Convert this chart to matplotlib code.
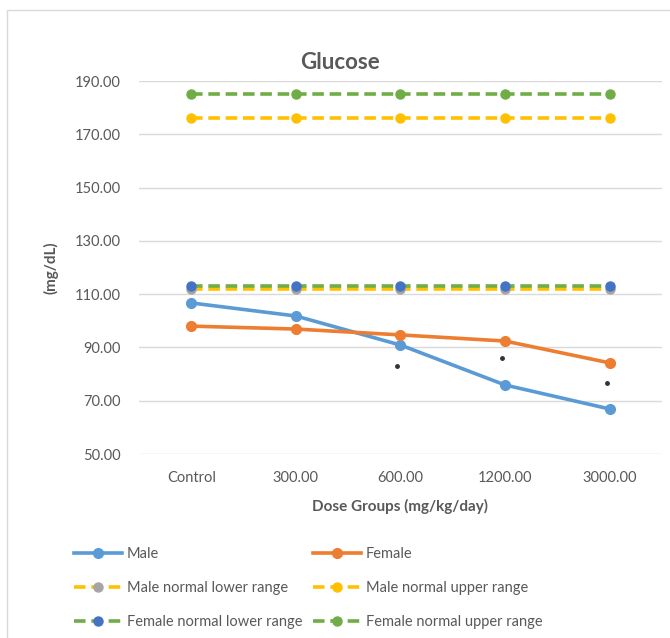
import matplotlib
matplotlib.use("Agg")
import matplotlib.pyplot as plt
from matplotlib.patches import Rectangle

# data
groups = ["Control", "300.00", "600.00", "1200.00", "3000.00"]
male = [106.7, 101.8, 90.9, 75.9, 66.9]
female = [98.0, 96.9, 94.7, 92.4, 84.2]
male_lower = [112, 112, 112, 112, 112]
male_upper = [176, 176, 176, 176, 176]
female_lower = [113, 113, 113, 113, 113]
female_upper = [185, 185, 185, 185, 185]
# significance marks below points
sig_idx = [2, 3, 4]
sig_val = [83.2, 86.0, 76.8]

plt.rcParams["font.family"] = ["Lato", "DejaVu Sans"]
GREY = "#595959"

fig = plt.figure(figsize=(6.7, 6.38), dpi=100)
ax = fig.add_axes([0.2075, 0.2884, 0.7805, 0.5846])

x = list(range(len(groups)))
h_m, = ax.plot(x, male, color="#5B9BD5", lw=2.6, marker="o", ms=7, label="Male", zorder=3)
h_f, = ax.plot(x, female, color="#ED7D31", lw=2.6, marker="o", ms=7, label="Female", zorder=3)
h_ml, = ax.plot(x, male_lower, color="#FFC000", lw=2.6, dashes=(3.2, 1.6), marker="o", ms=6.5,
                mfc="#A5A5A5", mec="#A5A5A5", label="Male normal lower range", zorder=4)
h_mu, = ax.plot(x, male_upper, color="#FFC000", lw=2.6, dashes=(3.2, 1.6), marker="o", ms=6.5,
                label="Male normal upper range", zorder=4)
h_fl, = ax.plot(x, female_lower, color="#70AD47", lw=2.6, dashes=(3.2, 1.6), marker="o", ms=6.5,
                mfc="#4472C4", mec="#4472C4", label="Female normal lower range", zorder=5)
h_fu, = ax.plot(x, female_upper, color="#70AD47", lw=2.6, dashes=(3.2, 1.6), marker="o", ms=6.5,
                label="Female normal upper range", zorder=5)

ax.plot([x[i] - 0.03 for i in sig_idx], sig_val, ls="none", marker="o", ms=2.5,
        color="#333333", zorder=6)

ax.set_xlim(-0.5, 4.5)
ax.set_ylim(50, 190)
ax.set_yticks(range(50, 191, 20))
ax.set_yticklabels([f"{v:.2f}" for v in range(50, 191, 20)])
ax.set_xticks(x)
ax.set_xticklabels(groups)
ax.tick_params(length=0, labelsize=10.5, colors=GREY, pad=13)
ax.tick_params(axis="x", pad=12)
ax.grid(axis="y", color="#D9D9D9", lw=1)
ax.set_axisbelow(True)
for s in ax.spines.values():
    s.set_visible(False)

ax.set_title("Glucose", fontsize=16, fontweight="bold", color=GREY, pad=9, x=0.385)
ax.set_xlabel("Dose Groups (mg/kg/day)", fontsize=11, fontweight="bold", color=GREY, labelpad=10)
ax.set_ylabel("(mg/dL)", fontsize=11, fontweight="bold", color=GREY, labelpad=12)

# two legend columns placed separately, rows read left to right
legend_kw = dict(loc="upper left", frameon=False, fontsize=10.5, handlelength=3.3,
                 labelspacing=1.36, handletextpad=0.3, labelcolor=GREY)
col1 = [h_m, h_ml, h_fl]
col2 = [h_f, h_mu, h_fu]
fig.legend(handles=col1, labels=[h.get_label() for h in col1],
           bbox_to_anchor=(0.091, 0.163), **legend_kw)
fig.legend(handles=col2, labels=[h.get_label() for h in col2],
           bbox_to_anchor=(0.448, 0.163), **legend_kw)

fig.patches.append(Rectangle((7 / 670, -0.01), 1.0, 1 - 10 / 638 + 0.01, transform=fig.transFigure,
                             fill=False, edgecolor="#D9D9D9", lw=1))

fig.savefig("out.png", dpi=100)
